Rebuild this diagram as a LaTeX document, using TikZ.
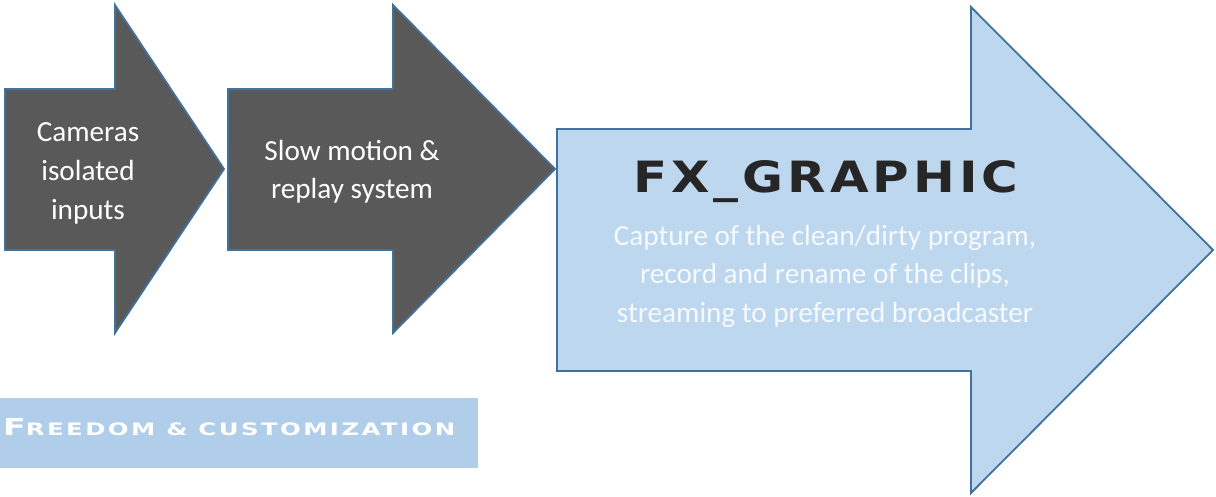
\documentclass[tikz,border=0pt]{standalone}
\usepackage{fontspec}
\setmainfont{Carlito}
\newfontfamily\titlefont[LetterSpace=8]{DejaVu Sans}
\newfontfamily\bankfont[LetterSpace=10]{DejaVu Sans}
\definecolor{darkfill}{HTML}{595959}
\definecolor{edgeblue}{HTML}{41719C}
\definecolor{lightfill}{HTML}{BDD7EE}
\definecolor{bannerfill}{HTML}{B0CEEA}
\definecolor{titleink}{HTML}{262626}
\definecolor{paleink}{HTML}{F6F9FD}
\tikzset{
  darkarrow/.style={draw=edgeblue, fill=darkfill, line width=1.8pt, line join=miter},
  lightarrow/.style={draw=edgeblue, fill=lightfill, line width=1.8pt, line join=miter},
  bodytext/.style={anchor=base, inner sep=0pt, font=\fontsize{29.2}{39}\selectfont},
  whitetext/.style={bodytext, text=white},
  desctext/.style={bodytext, text=paleink},
}
\begin{document}
\begin{tikzpicture}[x=1pt,y=-1pt]
\useasboundingbox (0,0) rectangle (1216,496);
% arrows
\path[darkarrow] (5,89) -- (115,89) -- (115,5) -- (224,169) -- (115,333) -- (115,250) -- (5,250) -- cycle;
\path[darkarrow] (228,89) -- (393,89) -- (393,5) -- (555,169) -- (393,333) -- (393,250) -- (228,250) -- cycle;
\path[lightarrow] (557,129) -- (971,129) -- (971,7) -- (1213,250) -- (971,493) -- (971,371) -- (557,371) -- cycle;
% texts of arrow 1
\node[whitetext] (cam1) at (88,141) {Cameras};
\node[whitetext] (cam2) at (88,180) {isolated};
\node[whitetext] (cam3) at (88,219) {inputs};
% texts of arrow 2
\node[whitetext] (slow1) at (352,160) {Slow motion \&};
\node[whitetext] (slow2) at (352,198) {replay system};
% arrow 3
\node[anchor=base, inner sep=0pt, text=titleink] (fx) at (826,192)
  {\resizebox{385pt}{32pt}{\titlefont\bfseries FX\_GRAPHIC}};
\node[desctext] (d1) at (825,245) {Capture of the clean/dirty program,};
\node[desctext] (d2) at (825,283) {record and rename of the clips,};
\node[desctext] (d3) at (825,322) {streaming to preferred broadcaster};
% banner
\fill[bannerfill] (0,398) rectangle (478,468);
\node[anchor=base west, inner sep=0pt, text=white] (banner) at (3,435)
  {\resizebox{452pt}{17pt}{\bankfont\bfseries\fontsize{17}{20}\selectfont F\fontsize{12.5}{15}\selectfont REEDOM \& CUSTOMIZATION}};
\end{tikzpicture}
\end{document}
